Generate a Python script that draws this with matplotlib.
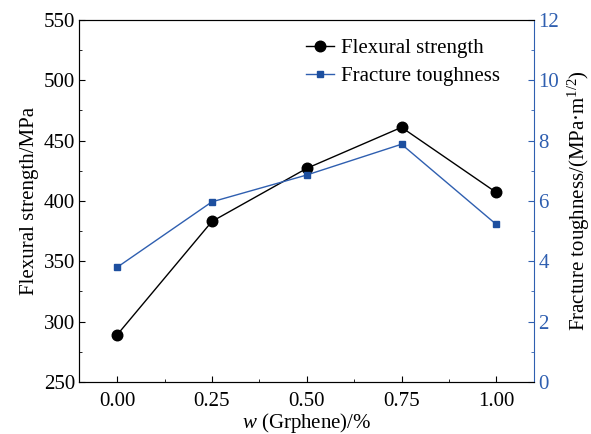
import matplotlib
matplotlib.use("Agg")
import matplotlib.pyplot as plt
from matplotlib.ticker import MultipleLocator

plt.rcParams["font.family"] = ["Liberation Serif", "DejaVu Serif"]
plt.rcParams["mathtext.fontset"] = "custom"
plt.rcParams["mathtext.rm"] = "Liberation Serif"
plt.rcParams["mathtext.it"] = "Liberation Serif:italic"

graphene = [0.00, 0.25, 0.50, 0.75, 1.00]
flexural = [289, 383, 427, 461, 407]
toughness = [3.80, 5.97, 6.86, 7.88, 5.22]
xticks = [0.00, 0.25, 0.50, 0.75, 1.00]

BLUE = "#2f5fb0"
MARK = "#1d4f9f"
FS = 15

fig = plt.figure(figsize=(5.91, 4.34), dpi=100)
ax = fig.add_axes([0.134, 0.120, 0.770, 0.834])
ax2 = ax.twinx()

l1, = ax.plot(graphene, flexural, color="black", lw=1.0, marker="o", ms=7.6, label="Flexural strength")
l2, = ax2.plot(graphene, toughness, color=BLUE, lw=1.0, marker="s", ms=5, mfc=MARK, mec=MARK,
               label="Fracture toughness")

ax.set_xlim(-0.1, 1.1)
ax.set_ylim(250, 550)
ax2.set_ylim(0, 12)
ax.set_xticks(xticks)
ax.set_xticklabels([f"{v:.2f}" for v in xticks])
ax.xaxis.set_minor_locator(MultipleLocator(0.125))
ax.yaxis.set_major_locator(MultipleLocator(50))
ax.yaxis.set_minor_locator(MultipleLocator(25))
ax2.yaxis.set_major_locator(MultipleLocator(2))
ax2.yaxis.set_minor_locator(MultipleLocator(1))

for a in (ax, ax2):
    a.tick_params(which="both", direction="in", labelsize=FS)
    a.tick_params(which="major", length=4)
    a.tick_params(which="minor", length=2.5)
ax.tick_params(axis="x", pad=7)
ax.tick_params(axis="y", pad=3)
ax2.tick_params(axis="y", which="both", colors=BLUE, labelcolor=BLUE, pad=3)
ax2.spines["right"].set_color(BLUE)
for s in ax.spines.values():
    s.set_color("#333333")
ax.spines["right"].set_visible(False)

ax.set_xlabel("$w$ (Grphene)/%", fontsize=FS, labelpad=0)
ax.set_ylabel("Flexural strength/MPa", fontsize=FS, labelpad=3)
ax2.set_ylabel("Fracture toughness/(MPa·m$^{1/2}$)", fontsize=FS, labelpad=5)

ax.legend(handles=[l1, l2], loc="upper right", frameon=False, fontsize=FS,
          handlelength=1.35, handletextpad=0.3, borderaxespad=0.5, labelspacing=0.38,
          bbox_to_anchor=(0.965, 1.0))

fig.savefig("out.png", dpi=100)
